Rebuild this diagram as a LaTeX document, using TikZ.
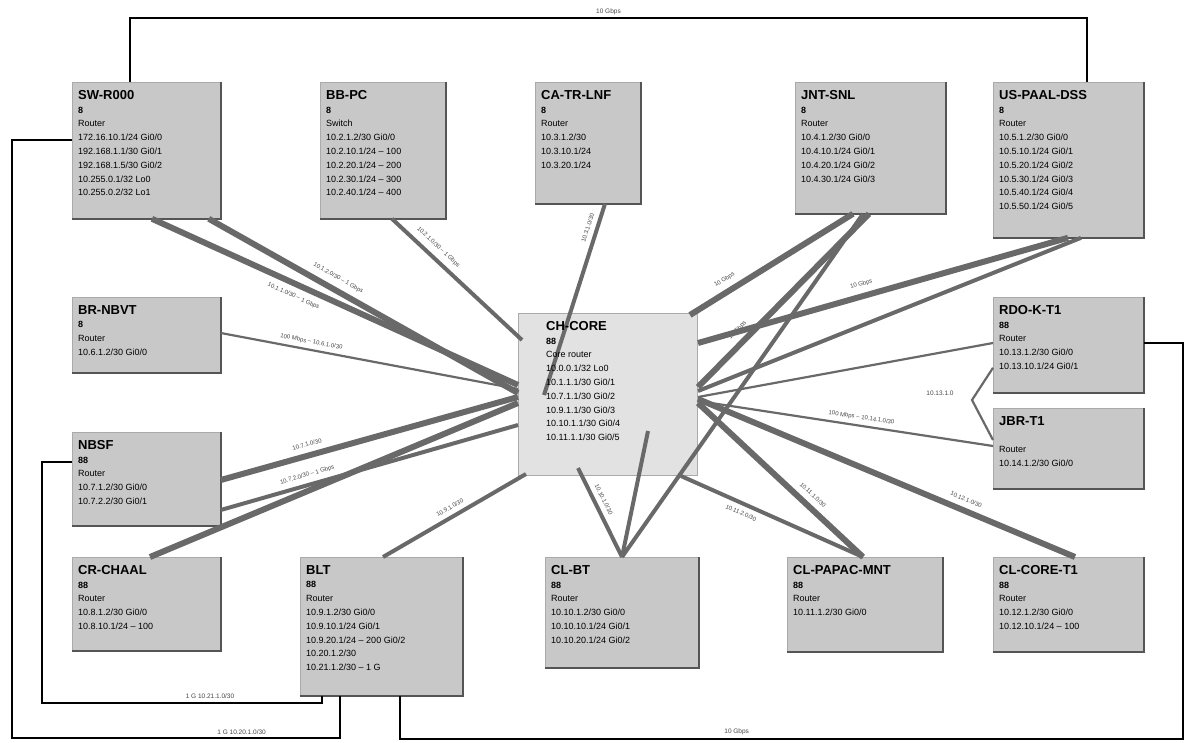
\documentclass[tikz,border=0pt]{standalone}
\usepackage{fontspec}
\setmainfont{Liberation Sans}
\usetikzlibrary{calc}
\definecolor{boxgray}{RGB}{200,200,200}
\definecolor{boxedge}{RGB}{85,85,85}
\definecolor{boxlite}{RGB}{170,170,170}
\definecolor{cengray}{RGB}{226,226,226}
\definecolor{linegray}{RGB}{105,105,105}
\definecolor{labgray}{RGB}{70,70,70}
\newcommand{\ttlf}{\fontsize{13}{16}\selectfont\bfseries}
\tikzset{
  box/.style={fill=boxgray, draw=boxlite, line width=0.8pt, anchor=north west, inner sep=0pt},
  cenbox/.style={fill=cengray, draw=boxlite, line width=1pt, anchor=north west, inner sep=0pt},
  txt/.style={anchor=north west, align=left, inner sep=0pt, font=\fontsize{9}{13.8}\selectfont},
  thickln/.style={draw=linegray, line width=6pt},
  medln/.style={draw=linegray, line width=4pt},
  thinln/.style={draw=linegray, line width=2.2pt},
  blkln/.style={draw=black, line width=1.8pt},
  lab/.style={font=\fontsize{6}{7}\selectfont, text=labgray, inner sep=1pt, sloped},
  blab/.style={font=\fontsize{6.5}{7}\selectfont, text=labgray, inner sep=1pt}
}
\newcommand{\mkedge}[1]{\draw[boxedge, line width=1.6pt] (#1.north east) -- (#1.south east) -- (#1.south west);}
\begin{document}
\begin{tikzpicture}[x=1pt,y=-1pt]
\useasboundingbox (0,0) rectangle (1192,742);
% ---------- boxes ----------
\node[box, minimum width=148pt, minimum height=136pt] (b1) at (72,82) {};
\node[box, minimum width=125pt, minimum height=136pt] (b2) at (320,82) {};
\node[box, minimum width=105pt, minimum height=121pt] (b3) at (535,82) {};
\node[box, minimum width=150pt, minimum height=131pt] (b4) at (795,82) {};
\node[box, minimum width=150pt, minimum height=155pt] (b5) at (993,82) {};
\node[box, minimum width=148pt, minimum height=75pt] (b6) at (72,297) {};
\node[box, minimum width=148pt, minimum height=93pt] (b7) at (72,432) {};
\node[cenbox, minimum width=179pt, minimum height=162pt] (cen) at (518,313) {};
\node[box, minimum width=150pt, minimum height=95pt] (b13) at (993,297) {};
\node[box, minimum width=150pt, minimum height=80pt] (b14) at (993,408) {};
\node[box, minimum width=148pt, minimum height=93pt] (b8) at (72,557) {};
\node[box, minimum width=162pt, minimum height=138pt] (b9) at (300,557) {};
\node[box, minimum width=153pt, minimum height=110pt] (b10) at (545,557) {};
\node[box, minimum width=155pt, minimum height=94pt] (b11) at (787,557) {};
\node[box, minimum width=150pt, minimum height=94pt] (b12) at (993,557) {};
\foreach \b in {b1,b2,b3,b4,b5,b6,b7,b13,b14,b8,b9,b10,b11,b12} {\mkedge{\b}}
% ---------- gray links ----------
\draw[thickln] ([shift={(80,0)}]b1.south west) -- node[lab, below=5pt, pos=0.4] {10.1.1.0/30 -- 1 Gbps} ([shift={(0,72)}]cen.north west);
\draw[thickln] ([shift={(-12,0)}]b1.south east) -- node[lab, above=5pt, pos=0.4] {10.1.2.0/30 -- 1 Gbps} ([shift={(0,80)}]cen.north west);
\draw[medln] ([shift={(72,0)}]b2.south west) -- node[lab, above=5pt, pos=0.3] {10.2.1.0/30 -- 1 Gbps} ([shift={(4,27)}]cen.north west);
\draw[medln] ([shift={(70,0)}]b3.south west) -- node[lab, above=4pt, pos=0.14] {10.3.1.0/30} ([shift={(26,82)}]cen.north west);
\draw[thickln] ([shift={(58,0)}]b4.south west) -- node[lab, above=5pt, pos=0.75] {10 Gbps} ([shift={(-8,2)}]cen.north east);
\draw[thickln] ([shift={(74,0)}]b4.south west) -- node[lab, above=5pt, pos=0.72] {10 Gbps} ([shift={(0,74)}]cen.north east);
\draw[medln] ([shift={(68,0)}]b4.south west) -- ([shift={(77,0)}]b10.north west);
\draw[thickln] ([shift={(75,0)}]b5.south west) -- node[lab, above=5pt, pos=0.55] {10 Gbps} ([shift={(0,30)}]cen.north east);
\draw[medln] ([shift={(88,0)}]b5.south west) -- ([shift={(0,78)}]cen.north east);
\draw[thinln] ([shift={(0,36)}]b6.north east) -- node[lab, above=3pt, pos=0.3] {100 Mbps -- 10.6.1.0/30} ([shift={(0,76)}]cen.north west);
\draw[thickln] ([shift={(0,48)}]b7.north east) -- node[lab, above=5pt, pos=0.3] {10.7.1.0/30} ([shift={(0,84)}]cen.north west);
\draw[medln] ([shift={(0,78)}]b7.north east) -- node[lab, above=4pt, pos=0.3] {10.7.2.0/30 -- 1 Gbps} ([shift={(0,112)}]cen.north west);
\draw[thickln] ([shift={(78,0)}]b8.north west) -- ([shift={(0,90)}]cen.north west);
\draw[medln] ([shift={(83,0)}]b9.north west) -- node[lab, above=4pt, pos=0.5] {10.9.1.0/30} ([shift={(8,-2)}]cen.south west);
\draw[medln] ([shift={(77,0)}]b10.north west) -- node[lab, above=4pt, pos=0.6] {10.10.1.0/30} ([shift={(60,-8)}]cen.south west);
\draw[medln] ([shift={(77,0)}]b10.north west) -- ([shift={(130,-45)}]cen.south west);
\draw[thickln] ([shift={(76,0)}]b11.north west) -- node[lab, above=5pt, pos=0.35] {10.11.1.0/30} ([shift={(0,90)}]cen.north east);
\draw[medln] ([shift={(76,0)}]b11.north west) -- node[lab, below=4pt, pos=0.65] {10.11.2.0/30} ([shift={(-17,0)}]cen.south east);
\draw[thickln] ([shift={(82,0)}]b12.north west) -- node[lab, above=5pt, pos=0.3] {10.12.1.0/30} ([shift={(0,86)}]cen.north east);
\draw[thinln] ([shift={(0,46)}]b13.north west) -- ([shift={(0,84)}]cen.north east);
\coordinate (j) at (972,400);
\draw[thinln] ([shift={(0,-25)}]b13.south west) -- (j) -- ([shift={(0,32)}]b14.north west);
\draw[thinln] ([shift={(0,38)}]b14.north west) -- node[lab, above=3pt, pos=0.45] {100 Mbps -- 10.14.1.0/30} ([shift={(0,88)}]cen.north east);
\node[blab] (jl) at (940,393) {10.13.1.0};
% ---------- black links ----------
\draw[blkln] ([shift={(58,0)}]b1.north west) -- ++(0,-64) -| node[blab, pos=0.25, above=1pt] {10 Gbps} ([shift={(94,0)}]b5.north west);
\draw[blkln] ([shift={(0,58)}]b1.north west) -- ++(-60,0) -- ++(0,598) -| node[blab, pos=0.35, above=2pt] {1 G 10.20.1.0/30} ([shift={(40,0)}]b9.south west);
\draw[blkln] ([shift={(0,30)}]b7.north west) -- ++(-30,0) -- ++(0,241) -| node[blab, pos=0.3, above=3pt] {1 G 10.21.1.0/30} ([shift={(22,0)}]b9.south west);
\draw[blkln] ([shift={(100,0)}]b9.south west) -- ++(0,43) -- node[blab, pos=0.43, above=2pt] {10 Gbps} ++(783,0) |- ([shift={(0,46)}]b13.north east);
% ---------- texts ----------
\node[txt] (t1) at ([shift={(6,8)}]b1.north west) {{\ttlf SW-R000}\\\textbf{8}\\Router\\172.16.10.1/24 Gi0/0\\192.168.1.1/30 Gi0/1\\192.168.1.5/30 Gi0/2\\10.255.0.1/32 Lo0\\10.255.0.2/32 Lo1};
\node[txt] (t2) at ([shift={(6,8)}]b2.north west) {{\ttlf BB-PC}\\\textbf{8}\\Switch\\10.2.1.2/30 Gi0/0\\10.2.10.1/24 -- 100\\10.2.20.1/24 -- 200\\10.2.30.1/24 -- 300\\10.2.40.1/24 -- 400};
\node[txt] (t3) at ([shift={(6,8)}]b3.north west) {{\ttlf CA-TR-LNF}\\\textbf{8}\\Router\\10.3.1.2/30\\10.3.10.1/24\\10.3.20.1/24};
\node[txt] (t4) at ([shift={(6,8)}]b4.north west) {{\ttlf JNT-SNL}\\\textbf{8}\\Router\\10.4.1.2/30 Gi0/0\\10.4.10.1/24 Gi0/1\\10.4.20.1/24 Gi0/2\\10.4.30.1/24 Gi0/3};
\node[txt] (t5) at ([shift={(6,8)}]b5.north west) {{\ttlf US-PAAL-DSS}\\\textbf{8}\\Router\\10.5.1.2/30 Gi0/0\\10.5.10.1/24 Gi0/1\\10.5.20.1/24 Gi0/2\\10.5.30.1/24 Gi0/3\\10.5.40.1/24 Gi0/4\\10.5.50.1/24 Gi0/5};
\node[txt] (t6) at ([shift={(6,8)}]b6.north west) {{\ttlf BR-NBVT}\\\textbf{8}\\Router\\10.6.1.2/30 Gi0/0};
\node[txt] (t7) at ([shift={(6,8)}]b7.north west) {{\ttlf NBSF}\\\textbf{88}\\Router\\10.7.1.2/30 Gi0/0\\10.7.2.2/30 Gi0/1};
\node[txt] (tc) at ([shift={(28,8)}]cen.north west) {{\ttlf CH-CORE}\\\textbf{88}\\Core router\\10.0.0.1/32 Lo0\\10.1.1.1/30 Gi0/1\\10.7.1.1/30 Gi0/2\\10.9.1.1/30 Gi0/3\\10.10.1.1/30 Gi0/4\\10.11.1.1/30 Gi0/5};
\node[txt] (t13) at ([shift={(6,8)}]b13.north west) {{\ttlf RDO-K-T1}\\\textbf{88}\\Router\\10.13.1.2/30 Gi0/0\\10.13.10.1/24 Gi0/1};
\node[txt] (t14) at ([shift={(6,8)}]b14.north west) {{\ttlf JBR-T1}\\\\Router\\10.14.1.2/30 Gi0/0};
\node[txt] (t8) at ([shift={(6,8)}]b8.north west) {{\ttlf CR-CHAAL}\\\textbf{88}\\Router\\10.8.1.2/30 Gi0/0\\10.8.10.1/24 -- 100};
\node[txt] (t9) at ([shift={(6,8)}]b9.north west) {{\ttlf BLT}\\\textbf{88}\\Router\\10.9.1.2/30 Gi0/0\\10.9.10.1/24 Gi0/1\\10.9.20.1/24 -- 200 Gi0/2\\10.20.1.2/30\\10.21.1.2/30 -- 1 G};
\node[txt] (t10) at ([shift={(6,8)}]b10.north west) {{\ttlf CL-BT}\\\textbf{88}\\Router\\10.10.1.2/30 Gi0/0\\10.10.10.1/24 Gi0/1\\10.10.20.1/24 Gi0/2};
\node[txt] (t11) at ([shift={(6,8)}]b11.north west) {{\ttlf CL-PAPAC-MNT}\\\textbf{88}\\Router\\10.11.1.2/30 Gi0/0};
\node[txt] (t12) at ([shift={(6,8)}]b12.north west) {{\ttlf CL-CORE-T1}\\\textbf{88}\\Router\\10.12.1.2/30 Gi0/0\\10.12.10.1/24 -- 100};
\end{tikzpicture}
\end{document}
